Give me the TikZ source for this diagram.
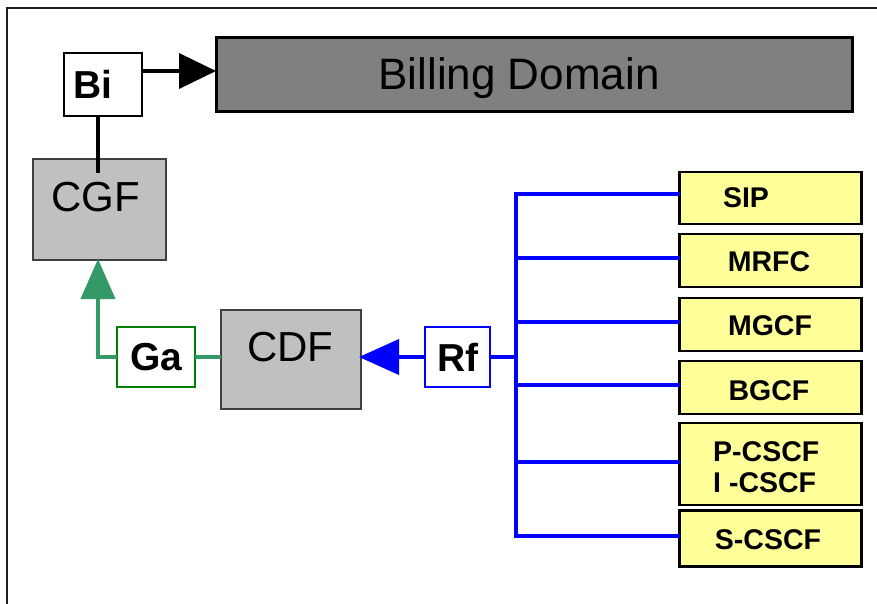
\documentclass[tikz,border=0pt]{standalone}
\usepackage{fontspec}
\setmainfont{Liberation Sans}
\usetikzlibrary{arrows.meta}
\definecolor{framec}{HTML}{202020}
\definecolor{billfill}{HTML}{808080}
\definecolor{boxfill}{HTML}{C0C0C0}
\definecolor{boxdraw}{HTML}{404040}
\definecolor{galine}{HTML}{339966}
\definecolor{gadraw}{HTML}{008000}
\definecolor{blueline}{HTML}{0000FF}
\definecolor{yellowfill}{HTML}{FFFF99}
\tikzset{
  box/.style={rectangle, inner sep=0pt, outer sep=0pt},
  ifbox/.style={box, draw=black, line width=2pt, fill=white},
  gfbox/.style={box, draw=boxdraw, line width=2.5pt, fill=boxfill},
  ybox/.style={box, draw=black, line width=2.6pt, fill=yellowfill, minimum width=182pt},
  lbl/.style={inner sep=0pt, font=\bfseries\fontsize{39}{40}\selectfont},
  big/.style={inner sep=0pt, font=\fontsize{42}{44}\selectfont},
  ylbl/.style={inner sep=0pt, font=\bfseries\fontsize{28.5}{31}\selectfont},
  blk/.style={line width=4pt, black},
  grn/.style={line width=4pt, galine},
  blu/.style={line width=4pt, blueline},
}
\begin{document}
\begin{tikzpicture}[x=1pt,y=-1pt]
\useasboundingbox (0,0) rectangle (877,603);
% frame
\draw[framec, line width=2pt] (7,610) -- (7,8) -- (885,8);

% Billing domain
\node[box, draw=black, line width=3pt, fill=billfill, minimum width=636pt, minimum height=74pt] (bd) at (534,74) {};
\node[inner sep=0pt, anchor=base, font=\fontsize{44}{46}\selectfont] (bdt) at (519,89) {Billing Domain};

% Bi
\node[ifbox, minimum width=78pt, minimum height=63pt] (bi) at (103,84.5) {};
\node[lbl] (bit) at (93,84) {Bi};

% CGF
\node[gfbox, minimum width=133pt, minimum height=101pt] (cgf) at (99.5,209.5) {};
\node[big] (cgft) at (96,197) {CGF};

% CDF
\node[gfbox, minimum width=140pt, minimum height=99pt] (cdf) at (291,359.5) {};
\node[big] (cdft) at (290.5,347) {CDF};

% Ga
\node[box, draw=gadraw, line width=2pt, fill=white, minimum width=78pt, minimum height=60pt] (ga) at (156,357) {};
\node[lbl] (gat) at (156.5,357) {Ga};

% Rf
\node[box, draw=blueline, line width=2pt, fill=white, minimum width=65pt, minimum height=60pt] (rf) at (457,357) {};
\node[lbl] (rft) at (458,357) {Rf};

% yellow boxes
\node[ybox, minimum height=52pt] (sip) at (770.5,198) {};
\node[ylbl] (sipt) at (746,198) {SIP};
\node[ybox, minimum height=53pt] (mrfc) at (770.5,260.5) {};
\node[ylbl] (mrfct) at (769,262) {MRFC};
\node[ybox, minimum height=53pt] (mgcf) at (770.5,324.5) {};
\node[ylbl] (mgcft) at (770,326) {MGCF};
\node[ybox, minimum height=53pt] (bgcf) at (770.5,387.5) {};
\node[ylbl] (bgcft) at (769,391) {BGCF};
\node[ybox, minimum height=82pt] (cscf) at (770.5,464) {};
\node[ylbl, anchor=west] (pcscf) at (713,452) {P-CSCF};
\node[ylbl, anchor=west] (icscf) at (713,483) {I -CSCF};
\node[ybox, minimum height=56pt] (scscf) at (770.5,538.5) {};
\node[ylbl] (scscft) at (768,540) {S-CSCF};

% connectors
\draw[blk, -{Triangle[length=37pt,width=35pt]}] (bi.east |- 0,71) -- (bd.west |- 0,71);
\coordinate (bijoin) at (98,173);
\draw[blk] (bijoin |- bi.south) -- (bijoin);

\draw[grn, -{Triangle[length=40pt,width=34pt]}] (ga.west) -- (98,357) -- (98,259);
\draw[grn] (ga.east) -- (cdf.west |- ga.east);

\draw[blu, -{Triangle[length=40pt,width=35pt]}] (rf.west) -- (359,357);

\coordinate (bus) at (516,357);
\coordinate (bustop) at (516,194);
\coordinate (busbot) at (516,536);
\draw[blu] (rf.east) -- (bus);
\draw[blu, line cap=rect] (bustop) -- (busbot);
\draw[blu] (bustop) -- (sip.west |- bustop);
\draw[blu] (516,258) -- (mrfc.west |- 0,258);
\draw[blu] (516,322) -- (mgcf.west |- 0,322);
\draw[blu] (516,385) -- (bgcf.west |- 0,385);
\draw[blu] (516,462) -- (cscf.west |- 0,462);
\draw[blu] (busbot) -- (scscf.west |- busbot);
\end{tikzpicture}
\end{document}
